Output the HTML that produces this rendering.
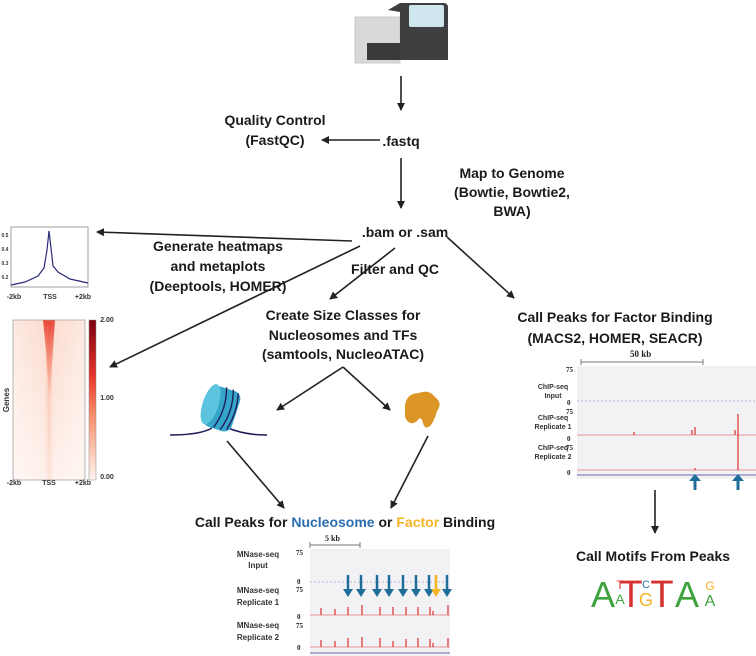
<!DOCTYPE html>
<html><head><meta charset="utf-8"><style>
html,body{margin:0;padding:0;background:#fff;width:756px;height:656px;overflow:hidden}
svg{display:block}
.t{font-family:"Liberation Sans",sans-serif;font-weight:bold;font-size:14px;fill:#1a1a1a;text-anchor:middle}
.s{font-family:"Liberation Sans",sans-serif;font-weight:bold;font-size:7px;fill:#333;text-anchor:middle}
.r{font-family:"Liberation Serif",serif;font-weight:bold;font-size:8px;fill:#222}
</style></head><body>
<svg width="756" height="656" viewBox="0 0 756 656" xmlns="http://www.w3.org/2000/svg">
<defs>
<marker id="a" markerWidth="8" markerHeight="8" refX="7" refY="4" orient="auto" markerUnits="userSpaceOnUse"><path d="M0,0 L8,4 L0,8 Z" fill="#222"/></marker>
<linearGradient id="hm" x1="0" y1="0" x2="1" y2="0">
<stop offset="0" stop-color="#fdeae2"/><stop offset="0.44" stop-color="#fcdccf"/><stop offset="0.5" stop-color="#f9b9a3"/><stop offset="0.56" stop-color="#fcdccf"/><stop offset="1" stop-color="#fdeae2"/></linearGradient>
<linearGradient id="fade" x1="0" y1="0" x2="0" y2="1"><stop offset="0" stop-color="#fff" stop-opacity="0"/><stop offset="1" stop-color="#fff" stop-opacity="0.6"/></linearGradient>
<linearGradient id="top" x1="0" y1="0" x2="0" y2="1"><stop offset="0" stop-color="#e83a28" stop-opacity="0.9"/><stop offset="1" stop-color="#f07050" stop-opacity="0"/></linearGradient>
<linearGradient id="cb" x1="0" y1="0" x2="0" y2="1"><stop offset="0" stop-color="#7a0010"/><stop offset="0.35" stop-color="#e8352a"/><stop offset="0.6" stop-color="#f9906c"/><stop offset="1" stop-color="#fff5f0"/></linearGradient>
</defs>

<!-- sequencer -->
<rect x="355" y="17" width="45" height="46" fill="#d9d9da" stroke="#c8c8c8"/>
<rect x="367" y="43" width="40" height="17" fill="#3a3a3c"/>
<path d="M388,10 L400,3 h44 a4,4 0 0 1 4,4 v53 h-48 v-48 z" fill="#3f3f42"/>
<rect x="409" y="5" width="35" height="22" rx="2" fill="#cfe6ef"/>
<!-- top flow -->
<line x1="401" y1="76" x2="401" y2="110" stroke="#222" stroke-width="1.6" marker-end="url(#a)"/>
<text class="t" x="275" y="125">Quality Control</text>
<text class="t" x="275" y="145">(FastQC)</text>
<text class="t" x="401" y="146">.fastq</text>
<line x1="380" y1="140" x2="322" y2="140" stroke="#222" stroke-width="1.6" marker-end="url(#a)"/>
<line x1="401" y1="158" x2="401" y2="208" stroke="#222" stroke-width="1.6" marker-end="url(#a)"/>
<text class="t" x="512" y="178">Map to Genome</text>
<text class="t" x="512" y="197">(Bowtie, Bowtie2,</text>
<text class="t" x="512" y="216">BWA)</text>
<text class="t" x="405" y="237">.bam or .sam</text>

<!-- branches -->
<line x1="352" y1="241" x2="97" y2="232" stroke="#222" stroke-width="1.6" marker-end="url(#a)"/>
<line x1="360" y1="246" x2="110" y2="367" stroke="#222" stroke-width="1.6" marker-end="url(#a)"/>
<line x1="395" y1="248" x2="330" y2="299" stroke="#222" stroke-width="1.6" marker-end="url(#a)"/>
<line x1="447" y1="237" x2="514" y2="298" stroke="#222" stroke-width="1.6" marker-end="url(#a)"/>
<text class="t" x="218" y="251">Generate heatmaps</text>
<text class="t" x="218" y="271">and metaplots</text>
<text class="t" x="218" y="291">(Deeptools, HOMER)</text>
<text class="t" x="395" y="274">Filter and QC</text>
<text class="t" x="343" y="320">Create Size Classes for</text>
<text class="t" x="343" y="340">Nucleosomes and TFs</text>
<text class="t" x="343" y="359">(samtools, NucleoATAC)</text>
<text class="t" x="615" y="322">Call Peaks for Factor Binding</text>
<text class="t" x="615" y="343">(MACS2, HOMER, SEACR)</text>

<!-- metaplot -->
<rect x="11" y="227" width="77" height="60" fill="#fff" stroke="#888" stroke-width="0.8"/>
<path d="M11,285 L25,282 L38,276 L44,268 L47,250 L49,231 L51,248 L53,266 L58,272 L70,279 L88,283" fill="none" stroke="#2b2b7a" stroke-width="1.2"/>
<g class="s" style="font-size:5px"><text x="5" y="237">0.5</text><text x="5" y="251">0.4</text><text x="5" y="265">0.3</text><text x="5" y="279">0.2</text></g>
<text class="s" x="14" y="299">-2kb</text><text class="s" x="50" y="299">TSS</text><text class="s" x="83" y="299">+2kb</text>

<!-- heatmap -->
<rect x="13" y="320" width="72" height="160" fill="url(#hm)"/>
<rect x="13" y="320" width="72" height="160" fill="url(#fade)"/>
<path d="M43,320 h12 l-2,30 l-3,50 l-1,0 l-3,-50 z" fill="url(#top)"/>
<rect x="13" y="320" width="72" height="160" fill="none" stroke="#999" stroke-width="0.7"/>
<rect x="89" y="320" width="7" height="160" fill="url(#cb)" stroke="#888" stroke-width="0.5"/>
<text class="s" x="107" y="322">2.00</text><text class="s" x="107" y="400">1.00</text><text class="s" x="107" y="479">0.00</text>
<text class="s" x="14" y="485">-2kb</text><text class="s" x="49" y="485">TSS</text><text class="s" x="83" y="485">+2kb</text>
<text class="s" style="font-size:8px" transform="translate(9,400) rotate(-90)">Genes</text>

<!-- nucleosome -->
<line x1="343" y1="367" x2="277" y2="410" stroke="#222" stroke-width="1.6" marker-end="url(#a)"/>
<line x1="343" y1="367" x2="390" y2="410" stroke="#222" stroke-width="1.6" marker-end="url(#a)"/>
<path d="M170,435 Q200,435 212,428 M228,428 Q245,435 267,435" stroke="#1d1d5a" stroke-width="1.5" fill="none"/>
<g transform="translate(222,408) rotate(18)">
<rect x="-15" y="-20" width="30" height="42" rx="8" fill="#35a6c9"/>
<ellipse cx="-12" cy="0" rx="8" ry="21" fill="#5cc4de"/>
<path d="M-2,-21 q7,21 0,42 M5,-21 q7,21 0,42 M11,-19 q5,19 0,38" stroke="#1d1d5a" stroke-width="1.4" fill="none"/>
</g>
<!-- TF -->
<path d="M405,405 q2,-12 14,-12 q10,-4 16,4 q8,6 2,14 q-2,8 -6,14 q-6,6 -8,-2 q-2,-8 -6,-2 q-8,6 -12,-4 z" fill="#dc9626"/>
<line x1="227" y1="441" x2="284" y2="508" stroke="#222" stroke-width="1.6" marker-end="url(#a)"/>
<line x1="428" y1="436" x2="391" y2="508" stroke="#222" stroke-width="1.6" marker-end="url(#a)"/>

<text class="t" x="345" y="527">Call Peaks for <tspan fill="#2a6eae">Nucleosome</tspan> or <tspan fill="#f4b428">Factor</tspan> Binding</text>

<!-- MNase panel -->
<line x1="310" y1="545" x2="360" y2="545" stroke="#777"/>
<line x1="310" y1="542" x2="310" y2="548" stroke="#777"/><line x1="360" y1="542" x2="360" y2="548" stroke="#777"/>
<text class="r" x="325" y="541">5 kb</text>
<rect x="310" y="549" width="140" height="107" fill="#f2f2f4"/>
<g class="s" style="font-size:8px"><text x="258" y="557">MNase-seq</text><text x="258" y="568">Input</text><text x="258" y="593">MNase-seq</text><text x="258" y="605">Replicate 1</text><text x="258" y="628">MNase-seq</text><text x="258" y="640">Replicate 2</text></g>
<g class="r" style="font-size:7px"><text x="296" y="555">75</text><text x="297" y="584">0</text><text x="296" y="592">75</text><text x="297" y="619">0</text><text x="296" y="628">75</text><text x="297" y="650">0</text></g>
<line x1="310" y1="582" x2="450" y2="582" stroke="#7b7bd0" stroke-dasharray="2 2" stroke-width="0.6"/>
<line x1="310" y1="615" x2="450" y2="615" stroke="#e03030" stroke-width="0.6"/>
<line x1="310" y1="647" x2="450" y2="647" stroke="#e03030" stroke-width="0.6"/>
<line x1="310" y1="653" x2="450" y2="653" stroke="#3a3aa0" stroke-width="0.8"/>
<g stroke="#e03030" stroke-width="1.2">
<path d="M321,615v-7M335,615v-6M348,615v-8M362,615v-10M380,615v-8M393,615v-8M406,615v-8M418,615v-8M430,615v-8M433,615v-4M448,615v-10"/>
<path d="M321,647v-7M335,647v-6M348,647v-9M362,647v-10M380,647v-9M393,647v-6M406,647v-8M418,647v-9M430,647v-8M433,647v-4M448,647v-9"/>
</g>
<g stroke-width="2.5" fill="none">
<g stroke="#1f6e9a"><path d="M348,575v16M361,575v16M377,575v16M389,575v16M403,575v16M416,575v16M429,575v16M447,575v16"/></g>
<path d="M436,575v16" stroke="#f4b428"/>
</g>
<g fill="#1f6e9a"><path d="M343,589h10l-5,8zM356,589h10l-5,8zM372,589h10l-5,8zM384,589h10l-5,8zM398,589h10l-5,8zM411,589h10l-5,8zM424,589h10l-5,8zM442,589h10l-5,8z"/></g>
<path d="M431,589h10l-5,8z" fill="#f4b428"/>

<!-- ChIP panel -->
<line x1="581" y1="362" x2="703" y2="362" stroke="#777"/>
<line x1="581" y1="359" x2="581" y2="365" stroke="#777"/><line x1="703" y1="359" x2="703" y2="365" stroke="#777"/>
<text class="r" x="630" y="357" style="font-size:9px">50 kb</text>
<rect x="577" y="366" width="179" height="113" fill="#f2f2f4"/>
<g class="s" style="font-size:7px"><text x="553" y="389">ChIP-seq</text><text x="553" y="398">Input</text><text x="553" y="420">ChIP-seq</text><text x="553" y="429">Replicate 1</text><text x="553" y="450">ChIP-seq</text><text x="553" y="459">Replicate 2</text></g>
<g class="r" style="font-size:7px"><text x="566" y="372">75</text><text x="567" y="405">0</text><text x="566" y="414">75</text><text x="567" y="441">0</text><text x="566" y="450">75</text><text x="567" y="475">0</text></g>
<line x1="577" y1="401" x2="756" y2="401" stroke="#7b7bd0" stroke-dasharray="2 2" stroke-width="0.6"/>
<line x1="577" y1="435" x2="756" y2="435" stroke="#e03030" stroke-width="0.6"/>
<line x1="577" y1="470" x2="756" y2="470" stroke="#e03030" stroke-width="0.6"/>
<line x1="577" y1="475" x2="756" y2="475" stroke="#3a3aa0" stroke-width="0.8"/>
<g stroke="#e03030" stroke-width="1.2"><path d="M634,435v-3M692,435v-5M695,435v-8M735,435v-5M738,435v-21M695,470v-2M738,470v-36"/></g>
<g fill="#1f6e9a"><rect x="693.5" y="479" width="3" height="11"/><path d="M689,481h12l-6,-7z"/><rect x="736.5" y="479" width="3" height="11"/><path d="M732,481h12l-6,-7z"/></g>
<line x1="655" y1="490" x2="655" y2="533" stroke="#222" stroke-width="1.6" marker-end="url(#a)"/>
<text class="t" x="653" y="561">Call Motifs From Peaks</text>

<!-- motif -->
<g font-family="Liberation Sans,sans-serif" text-anchor="middle">
<text x="603" y="607" font-size="36" fill="#3ea33e">A</text>
<text x="620" y="589" font-size="12" fill="#d63030">T</text>
<text x="620" y="604" font-size="14" fill="#3ea33e">A</text>
<text x="631" y="607" font-size="38" fill="#d63030">T</text>
<text x="646" y="588" font-size="11" fill="#2a6eae">C</text>
<text x="646" y="606" font-size="18" fill="#f4b428">G</text>
<text x="662" y="607" font-size="38" fill="#d63030">T</text>
<text x="687" y="607" font-size="36" fill="#3ea33e">A</text>
<text x="710" y="590" font-size="12" fill="#f4b428">G</text>
<text x="710" y="606" font-size="16" fill="#3ea33e">A</text>
</g>
</svg>
</body></html>
